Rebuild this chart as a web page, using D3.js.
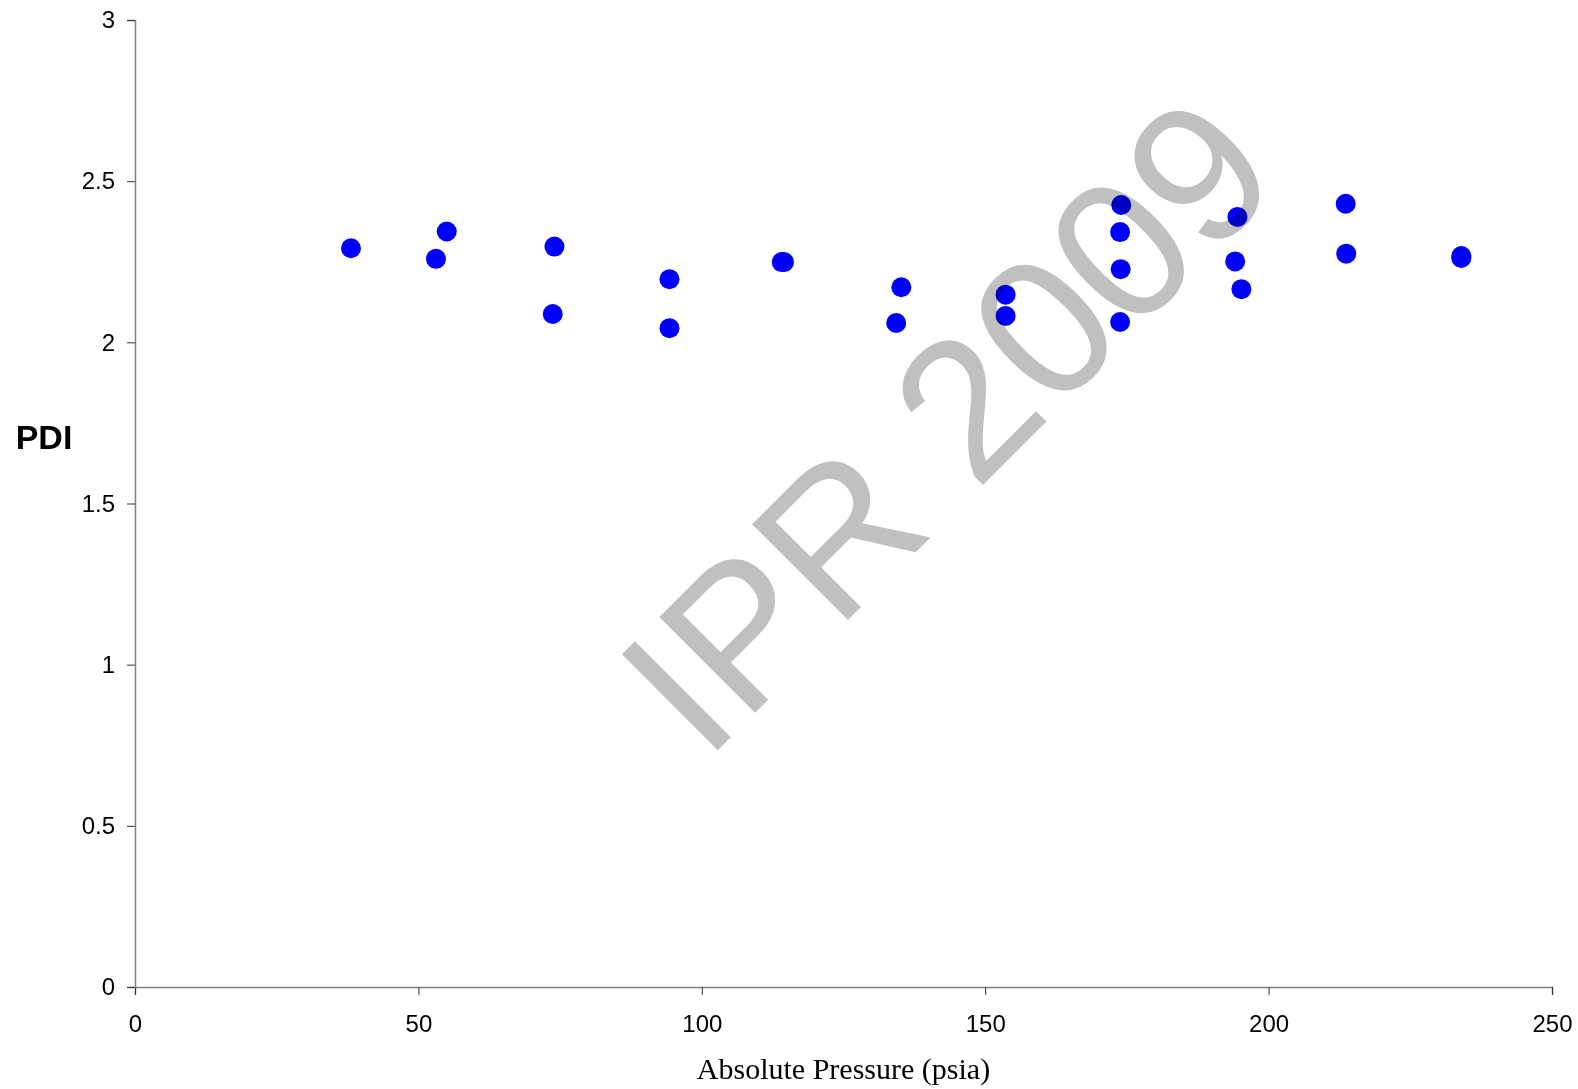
<!DOCTYPE html>
<html>
<head>
<meta charset="utf-8">
<script src="https://cdn.jsdelivr.net/npm/d3@7"></script>
<style>
  body { margin: 0; background: #fff; }
  .tick text { font-family: "Liberation Sans", Arial, sans-serif; font-size: 24px; fill: #000; }
</style>
</head>
<body>
<div id="plot"></div>
<script>
// PDI vs absolute pressure readings
const pressure = [38.1, 55.0, 53.1, 74.0, 73.7, 94.3, 94.3, 114.1, 114.5,
                  135.2, 134.3, 153.6, 153.6, 174.0, 173.8, 173.9, 173.8,
                  194.5, 194.1, 195.2, 213.6, 213.7, 234.0, 234.0];
const pdi = [2.292, 2.344, 2.259, 2.297, 2.088, 2.196, 2.044, 2.249, 2.249,
             2.171, 2.060, 2.148, 2.082, 2.426, 2.342, 2.227, 2.063,
             2.389, 2.251, 2.165, 2.430, 2.275, 2.262, 2.268];
const xTicks = [0, 50, 100, 150, 200, 250];
const yTicks = [0, 0.5, 1, 1.5, 2, 2.5, 3];

const width = 1578;
const height = 1089;
const margin = { top: 20, right: 26, bottom: 102, left: 135 };

const svg = d3.select("#plot").append("svg")
    .attr("width", width)
    .attr("height", height);

const x = d3.scaleLinear().domain([0, 250]).range([margin.left, width - margin.right]);
const y = d3.scaleLinear().domain([0, 3]).range([height - margin.bottom, margin.top]);

// axes
const xAxis = svg.append("g")
    .attr("transform", `translate(0,${y(0)})`)
    .call(d3.axisBottom(x).tickValues(xTicks).tickSize(8).tickPadding(20).tickFormat(d3.format("")));
const yAxis = svg.append("g")
    .attr("transform", `translate(${x(0)},0)`)
    .call(d3.axisLeft(y).tickValues(yTicks).tickSize(8).tickPadding(12).tickFormat(d3.format("")));

[xAxis, yAxis].forEach(g => {
    g.select(".domain").attr("stroke", "#808080").attr("stroke-width", 1.5);
    g.selectAll(".tick line").attr("stroke", "#333").attr("stroke-width", 1);
});
xAxis.selectAll(".tick text").attr("dy", "0.71em");

// points
svg.append("g")
    .selectAll("circle")
    .data(pressure.map((p, i) => ({ p: p, v: pdi[i] })))
    .enter()
    .append("circle")
    .attr("cx", d => x(d.p))
    .attr("cy", d => y(d.v))
    .attr("r", 10)
    .attr("fill", "#0000ff");

// axis titles
svg.append("text")
    .attr("x", 44)
    .attr("y", 449)
    .attr("text-anchor", "middle")
    .style("font-family", "'Liberation Sans', Arial, sans-serif")
    .style("font-weight", "bold")
    .style("font-size", "34px")
    .text("PDI");

svg.append("text")
    .attr("x", (x(0) + x(250)) / 2)
    .attr("y", 1079)
    .attr("text-anchor", "middle")
    .style("font-family", "'Liberation Serif', 'Times New Roman', serif")
    .style("font-size", "30px")
    .text("Absolute Pressure (psia)");

// watermark
svg.append("text")
    .attr("transform", "translate(705,763) rotate(-45)")
    .style("font-family", "'Liberation Sans', Arial, sans-serif")
    .style("font-size", "197px")
    .style("fill", "#c0c0c0")
    .style("mix-blend-mode", "multiply")
    .text("IPR 2009");
</script>
</body>
</html>
